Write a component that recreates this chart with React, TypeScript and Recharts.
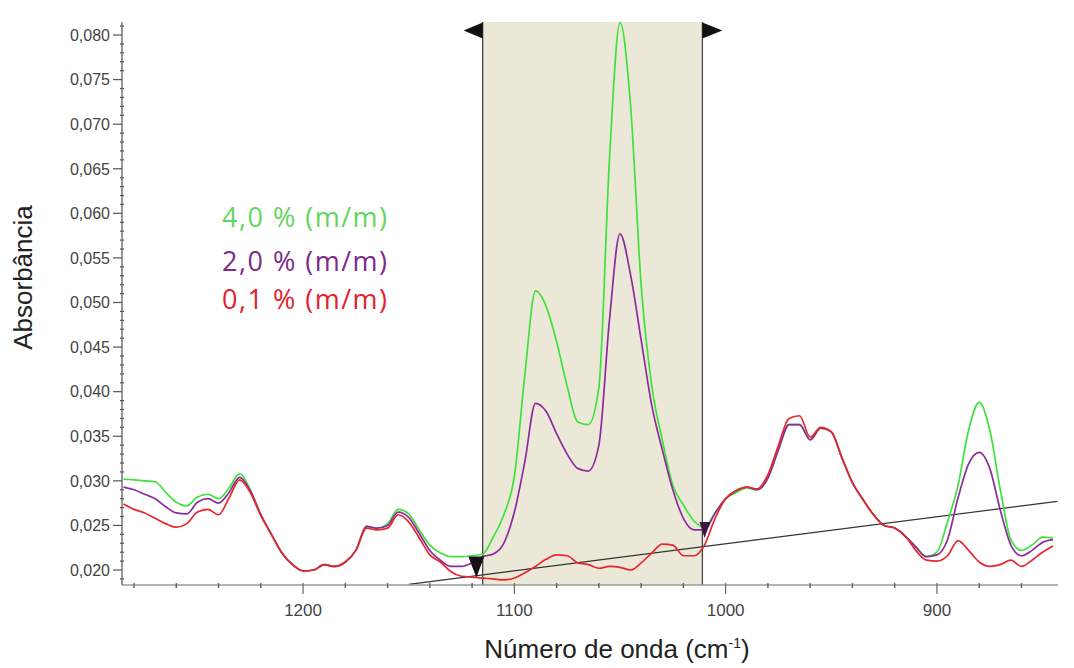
import { LineChart, Line, XAxis, YAxis, ReferenceArea, ReferenceLine, ReferenceDot, Legend } from 'recharts';

// Wavenumber grid in cm-1, from high to low as it is plotted
const wavenumbers = [
  1285, 1280, 1275, 1270, 1265, 1260, 1255, 1250, 1245, 1240,
  1235, 1230, 1225, 1220, 1215, 1210, 1205, 1200, 1195, 1190,
  1185, 1180, 1175, 1170, 1165, 1160, 1155, 1150, 1145, 1140,
  1135, 1130, 1125, 1120, 1115, 1110, 1105, 1100, 1095, 1090,
  1085, 1080, 1075, 1070, 1065, 1060, 1055, 1050, 1045, 1040,
  1035, 1030, 1025, 1020, 1015, 1010, 1005, 1000, 995, 990,
  985, 980, 975, 970, 965, 960, 955, 950, 945, 940,
  935, 930, 925, 920, 915, 910, 905, 900, 895, 890,
  885, 880, 875, 870, 865, 860, 855, 850, 845,
];

// Absorbance, 4,0 % (m/m)
const abs40 = [
  0.0302, 0.0301, 0.0300, 0.0299, 0.0287, 0.0276, 0.0272, 0.0282, 0.0285, 0.0280,
  0.0292, 0.0308, 0.0290, 0.0262, 0.0240, 0.0219, 0.0206, 0.0199, 0.0200, 0.0206,
  0.0204, 0.0209, 0.0222, 0.0249, 0.0247, 0.0252, 0.0268, 0.0263, 0.0245, 0.0228,
  0.0219, 0.0215, 0.0215, 0.0216, 0.0218, 0.0237, 0.0262, 0.0305, 0.0420, 0.0513,
  0.0496, 0.0456, 0.0406, 0.0366, 0.0363, 0.0405, 0.0660, 0.0814, 0.0721, 0.0520,
  0.0407, 0.0346, 0.0295, 0.0273, 0.0255, 0.0248, 0.0264, 0.0280, 0.0287, 0.0292,
  0.0290, 0.0303, 0.0335, 0.0363, 0.0363, 0.0346, 0.0359, 0.0355, 0.0326, 0.0298,
  0.0279, 0.0262, 0.0250, 0.0247, 0.0238, 0.0226, 0.0215, 0.0220, 0.0254, 0.0295,
  0.0357, 0.0388, 0.0357, 0.0290, 0.0234, 0.0222, 0.0228, 0.0237, 0.0236,
];

// Absorbance, 2,0 % (m/m)
const abs20 = [
  0.0293, 0.0290, 0.0285, 0.0280, 0.0271, 0.0264, 0.0263, 0.0276, 0.0280, 0.0275,
  0.0287, 0.0304, 0.0289, 0.0262, 0.0240, 0.0219, 0.0206, 0.0199, 0.0200, 0.0206,
  0.0204, 0.0209, 0.0222, 0.0249, 0.0247, 0.0250, 0.0265, 0.0259, 0.0241, 0.0222,
  0.0211, 0.0204, 0.0204, 0.0208, 0.0215, 0.0218, 0.0230, 0.0265, 0.0322, 0.0387,
  0.0378, 0.0353, 0.0330, 0.0314, 0.0311, 0.0340, 0.0480, 0.0577, 0.0531, 0.0458,
  0.0385, 0.0335, 0.0290, 0.0258, 0.0245, 0.0245, 0.0264, 0.0280, 0.0289, 0.0293,
  0.0290, 0.0303, 0.0335, 0.0363, 0.0363, 0.0346, 0.0359, 0.0355, 0.0326, 0.0298,
  0.0279, 0.0262, 0.0250, 0.0247, 0.0238, 0.0226, 0.0215, 0.0217, 0.0234, 0.0281,
  0.0319, 0.0332, 0.0314, 0.0267, 0.0228, 0.0216, 0.0222, 0.0231, 0.0234,
];

// Absorbance, 0,1 % (m/m)
const abs01 = [
  0.0274, 0.0268, 0.0264, 0.0258, 0.0252, 0.0248, 0.0252, 0.0265, 0.0268, 0.0262,
  0.0281, 0.0301, 0.0287, 0.0261, 0.0240, 0.0219, 0.0206, 0.0199, 0.0200, 0.0206,
  0.0204, 0.0209, 0.0222, 0.0247, 0.0245, 0.0247, 0.0262, 0.0254, 0.0236, 0.0217,
  0.0209, 0.0198, 0.0193, 0.0192, 0.0191, 0.0190, 0.0189, 0.0191, 0.0197, 0.0204,
  0.0212, 0.0217, 0.0216, 0.0208, 0.0206, 0.0202, 0.0204, 0.0203, 0.0200, 0.0208,
  0.0219, 0.0229, 0.0228, 0.0216, 0.0216, 0.0228, 0.0258, 0.0280, 0.0289, 0.0293,
  0.0291, 0.0307, 0.0340, 0.0370, 0.0373, 0.0349, 0.0360, 0.0355, 0.0326, 0.0298,
  0.0279, 0.0262, 0.0250, 0.0247, 0.0238, 0.0222, 0.0211, 0.0210, 0.0216, 0.0233,
  0.0222, 0.0209, 0.0204, 0.0206, 0.0211, 0.0204, 0.0211, 0.0220, 0.0227,
];

const seriesKeys = ['c40', 'c20', 'c01'];
const seriesNames = ['4,0 % (m/m)', '2,0 % (m/m)', '0,1 % (m/m)'];
const lineColors = ['#3fe23c', '#8c2c9c', '#e8262e'];
const labelColors = ['#63d65d', '#7c2a8c', '#e2222c'];

// Integration window and the linear baseline drawn under the band
const bandLimits = [1115, 1011];
const baselineWave = [1150, 843];
const baselineAbs = [0.0184, 0.0277];
const bandMarkerAbs = 0.0805;
const anchorWave = [1118, 1010];
const anchorAbs = [0.0204, 0.0245];

const xMajorTicks = [1200, 1100, 1000, 900];
const xMinorTicks = [1280, 1260, 1240, 1220, 1180, 1160, 1140, 1120, 1080, 1060, 1040, 1020, 980, 960, 940, 920, 880, 860];
const yMajorTicks = [0.020, 0.025, 0.030, 0.035, 0.040, 0.045, 0.050, 0.055, 0.060, 0.065, 0.070, 0.075, 0.080];

const xTicks = [...xMajorTicks, ...xMinorTicks];
// minor ticks every 0.001 between the labelled ones
const yTicks: number[] = [];
for (let k = 19; k <= 81; k++) yTicks.push(k / 1000);

const data = wavenumbers.map((w, i) => ({ w, c40: abs40[i], c20: abs20[i], c01: abs01[i] }));

const axisFont = '"Liberation Sans", Arial, sans-serif';

const isMajorY = (v: number) => yMajorTicks.some((t) => Math.abs(t - v) < 1e-7);

const YTick = ({ x, y, payload }: any) => {
  const v = payload.value as number;
  if (!isMajorY(v)) {
    return <line x1={x - 2} x2={x + 2} y1={y} y2={y} stroke="#555" strokeWidth={1.2} />;
  }
  return (
    <g>
      <line x1={x - 9} x2={x} y1={y} y2={y} stroke="#555" strokeWidth={1.2} />
      <text x={x - 12} y={y} dy="0.36em" textAnchor="end" fontFamily={axisFont} fontSize={16} fill="#444">
        {v.toFixed(3).replace('.', ',')}
      </text>
    </g>
  );
};

const XTick = ({ x, y, payload }: any) => {
  const v = payload.value as number;
  if (!xMajorTicks.includes(v)) {
    return <line x1={x} x2={x} y1={y - 2} y2={y + 3} stroke="#666" strokeWidth={1.5} />;
  }
  return (
    <g>
      <line x1={x} x2={x} y1={y - 2} y2={y + 9} stroke="#666" strokeWidth={1.2} />
      <text x={x} y={y + 31} textAnchor="middle" fontFamily={axisFont} fontSize={17} fill="#444">
        {v}
      </text>
    </g>
  );
};

const XTitle = ({ viewBox }: any) => (
  <text
    x={viewBox.x + viewBox.width / 2 + 27}
    y={viewBox.y + 73}
    textAnchor="middle"
    fontFamily={axisFont}
    fontSize={26}
    fill="#222"
  >
    Número de onda (cm
    <tspan dy={-10} fontSize={14}>-1</tspan>
    <tspan dy={10}>)</tspan>
  </text>
);

const YTitle = ({ viewBox }: any) => {
  const cx = viewBox.x + 23;
  const cy = viewBox.y + viewBox.height / 2 - 26;
  return (
    <text
      x={cx}
      y={cy}
      transform={`rotate(-90 ${cx} ${cy})`}
      textAnchor="middle"
      dominantBaseline="central"
      fontFamily={axisFont}
      fontSize={26}
      fill="#222"
    >
      Absorbância
    </text>
  );
};

// arrow heads at the top of the window limits
const LeftHead = ({ cx, cy }: any) => (
  <path d={`M${cx - 19},${cy} L${cx},${cy - 8} L${cx},${cy + 8} Z`} fill="#111" />
);
const RightHead = ({ cx, cy }: any) => (
  <path d={`M${cx + 20},${cy} L${cx},${cy - 8} L${cx},${cy + 8} Z`} fill="#111" />
);
const DownHead = ({ cx, cy }: any) => (
  <path d={`M${cx - 8},${cy - 10} L${cx + 8},${cy - 10} L${cx},${cy + 11} Z`} fill="#151015" />
);
const SmallDownHead = ({ cx, cy }: any) => (
  <path d={`M${cx - 5},${cy - 8} L${cx + 6},${cy - 8} L${cx},${cy + 8} Z`} fill="#3a1640" />
);

const legendRowGap = [0, 6, 0];

const LegendBlock = ({ payload }: any) => {
  const items = [...(payload || [])].sort(
    (a: any, b: any) => seriesKeys.indexOf(a.dataKey) - seriesKeys.indexOf(b.dataKey)
  );
  return (
    <div style={{ fontFamily: '"Open Sans", sans-serif', fontSize: 27, letterSpacing: 1.5 }}>
      {items.map((entry: any, i: number) => {
        const idx = seriesKeys.indexOf(entry.dataKey);
        return (
          <div
            key={entry.dataKey}
            style={{ color: labelColors[idx], lineHeight: '38px', marginTop: legendRowGap[i], whiteSpace: 'nowrap' }}
          >
            {entry.value}
          </div>
        );
      })}
    </div>
  );
};

export default function App() {
  return (
    <div style={{ position: 'absolute', left: 0, top: 0, width: 1074, height: 668, background: '#fff' }}>
      <LineChart width={1074} height={668} data={data} margin={{ top: 22, right: 16, bottom: 0, left: 0 }}>
        <ReferenceArea x1={bandLimits[0]} x2={bandLimits[1]} fill="#ece8d8" fillOpacity={1} stroke="none" />
        <XAxis
          dataKey="w"
          type="number"
          reversed
          domain={[842.7, 1285.7]}
          allowDataOverflow
          ticks={xTicks}
          interval={0}
          tick={XTick}
          tickLine={false}
          tickSize={0}
          tickMargin={0}
          height={83}
          axisLine={{ stroke: '#9a9a9a', strokeWidth: 1.5 }}
          label={{ content: XTitle }}
        />
        <YAxis
          type="number"
          domain={[0.01832, 0.08146]}
          allowDataOverflow
          ticks={yTicks}
          interval={0}
          tick={YTick}
          tickLine={false}
          tickSize={0}
          tickMargin={0}
          width={122}
          axisLine={{ stroke: '#555', strokeWidth: 1.2 }}
          label={{ content: YTitle }}
        />
        <ReferenceLine x={bandLimits[0]} stroke="#444" strokeWidth={1.3} />
        <ReferenceLine x={bandLimits[1]} stroke="#444" strokeWidth={1.3} />
        <ReferenceLine
          segment={[
            { x: baselineWave[0], y: baselineAbs[0] },
            { x: baselineWave[1], y: baselineAbs[1] },
          ]}
          stroke="#333"
          strokeWidth={1.2}
        />
        <Line dataKey="c40" name={seriesNames[0]} type="monotone" stroke={lineColors[0]} strokeWidth={1.7} dot={false} activeDot={false} isAnimationActive={false} />
        <Line dataKey="c20" name={seriesNames[1]} type="monotone" stroke={lineColors[1]} strokeWidth={1.7} dot={false} activeDot={false} isAnimationActive={false} />
        <Line dataKey="c01" name={seriesNames[2]} type="monotone" stroke={lineColors[2]} strokeWidth={1.7} dot={false} activeDot={false} isAnimationActive={false} />
        <ReferenceDot x={bandLimits[0]} y={bandMarkerAbs} r={8} shape={LeftHead} />
        <ReferenceDot x={bandLimits[1]} y={bandMarkerAbs} r={8} shape={RightHead} />
        <ReferenceDot x={anchorWave[0]} y={anchorAbs[0]} r={8} shape={DownHead} />
        <ReferenceDot x={anchorWave[1]} y={anchorAbs[1]} r={6} shape={SmallDownHead} />
        <Legend
          layout="vertical"
          align="center"
          verticalAlign="middle"
          content={LegendBlock}
          wrapperStyle={{ left: 222, top: 198, width: 260, height: 124 }}
        />
      </LineChart>
    </div>
  );
}
